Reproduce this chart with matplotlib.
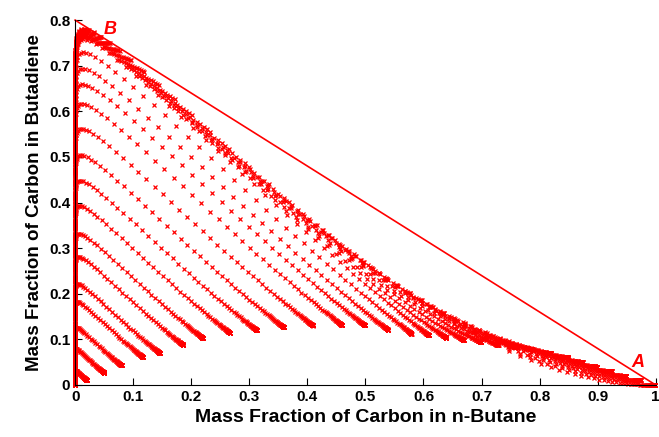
import numpy as np
import matplotlib
matplotlib.use('Agg')
import matplotlib.pyplot as plt

# Feed points along the lower edge of the cloud (n-butane, butadiene)
feed_x = [0.02, 0.05, 0.08, 0.117, 0.146, 0.186, 0.22, 0.267, 0.313, 0.36, 0.41, 0.46,
          0.50, 0.54, 0.58, 0.61, 0.64, 0.67, 0.70, 0.73, 0.76, 0.79, 0.82, 0.85,
          0.875, 0.9, 0.925, 0.95, 0.975, 1.0]
feed_y = [0.011, 0.027, 0.043, 0.061, 0.07, 0.088, 0.103, 0.114, 0.12, 0.126, 0.13, 0.131,
          0.13, 0.12, 0.112, 0.108, 0.103, 0.098, 0.093, 0.087, 0.082, 0.077, 0.069, 0.06,
          0.05, 0.04, 0.03, 0.02, 0.01, 0.0]

# rate constants: butane->butene, butane->other, butene->butadiene, butadiene->other
k_rates = [0.86, 0.14, 3.0, 0.025]
butene_ratio = 0.33

# Limit line A-B
line_x = [0.0, 1.0]
line_y = [0.8, 0.0]

k1, k4, k2, k3 = k_rates
M = np.array([[-(k1 + k4), 0.0, 0.0],
              [k1, -k2, 0.0],
              [0.0, k2, -k3]])
lam, V = np.linalg.eig(M)
Vinv = np.linalg.inv(V)
t_grid = np.logspace(-3, 2.3, 130)

px, py = [], []
for xf, yf in zip(feed_x, feed_y):
    b0 = max(0.0, min(butene_ratio * xf, 0.8 * (1 - xf) - yf))
    s0 = np.array([xf, b0, yf])
    coef = Vinv @ s0
    states = (V @ (coef[:, None] * np.exp(lam[:, None] * t_grid[None, :]))).real
    px.extend(states[0])
    py.extend(states[2])
px = np.array(px)
py = np.array(py)

plt.rcParams['font.family'] = ['Liberation Sans', 'DejaVu Sans']

fig = plt.figure(figsize=(6.59, 4.37), dpi=100)
ax = fig.add_axes([0.114, 0.119, 0.881, 0.835])

ax.plot(px, py, 'x', color='red', markersize=3, markeredgewidth=0.9, clip_on=False)
ax.plot(line_x, line_y, '-', color='red', linewidth=1.2, clip_on=False)

ax.text(0.05, 0.77, 'B', color='red', fontsize=13, style='italic', fontweight='bold')
ax.text(0.958, 0.04, 'A', color='red', fontsize=13, style='italic', fontweight='bold')

ax.set_xlim(0, 1)
ax.set_ylim(0, 0.8)
ax.set_xticks(np.arange(0, 1.01, 0.1))
ax.set_xticklabels(['0', '0.1', '0.2', '0.3', '0.4', '0.5', '0.6', '0.7', '0.8', '0.9', '1'])
ax.set_yticks(np.arange(0, 0.81, 0.1))
ax.set_yticklabels(['0', '0.1', '0.2', '0.3', '0.4', '0.5', '0.6', '0.7', '0.8'])
ax.tick_params(direction='in', length=5, labelsize=11)
for lab in ax.get_xticklabels() + ax.get_yticklabels():
    lab.set_fontweight('bold')
ax.spines['top'].set_visible(False)
ax.spines['right'].set_visible(False)

ax.set_xlabel('Mass Fraction of Carbon in n-Butane', fontsize=14, fontweight='bold')
ax.set_ylabel('Mass Fraction of Carbon in Butadiene', fontsize=13.5, fontweight='bold')

fig.savefig('out.png', dpi=100)
